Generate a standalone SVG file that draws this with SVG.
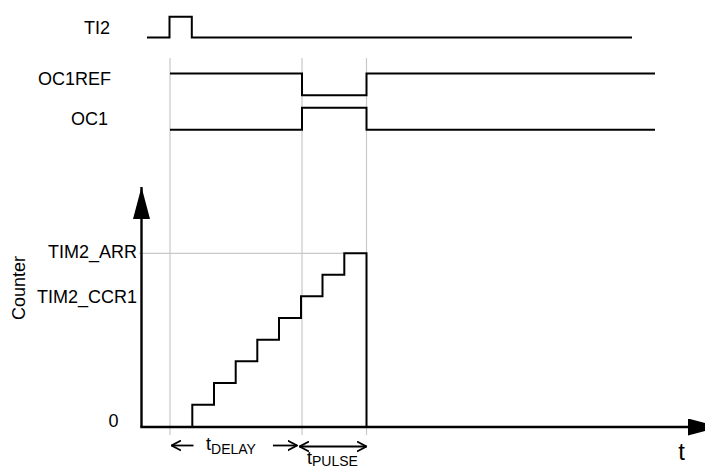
<svg xmlns="http://www.w3.org/2000/svg" width="705" height="470" viewBox="0 0 705 470">
<style>
.sig{fill:none;stroke:#000;stroke-width:2;stroke-linejoin:miter}
.grid{fill:none;stroke:#c8c8c8;stroke-width:1.2}
.axis{fill:none;stroke:#000;stroke-width:2.4}
.dim{fill:none;stroke:#000;stroke-width:1.8}
.lbl{font-family:"Liberation Sans",Arial,sans-serif;font-size:18px;fill:#000}
.sub{font-size:14px}
</style>
<defs>
<marker id="solid" viewBox="0 0 32 17" refX="32" refY="8.5" markerWidth="32" markerHeight="17" markerUnits="userSpaceOnUse" orient="auto">
<path d="M0,0 L32,8.5 L0,17 Z" fill="#000"/>
</marker>
<marker id="open" viewBox="0 0 10 12" refX="9.5" refY="6" markerWidth="10" markerHeight="12" markerUnits="userSpaceOnUse" orient="auto-start-reverse">
<path d="M0,1 L9.5,6 L0,11" fill="none" stroke="#000" stroke-width="1.8"/>
</marker>
</defs>
<rect width="705" height="470" fill="#fff"/>

<g id="gridlines">
<line class="grid" x1="170" y1="58" x2="170" y2="435"/>
<line class="grid" x1="302" y1="58" x2="302" y2="435"/>
<line class="grid" x1="366.5" y1="58" x2="366.5" y2="435"/>
<line class="grid" x1="139" y1="253.3" x2="366" y2="253.3"/>
</g>

<g id="signal-labels">
<text class="lbl" x="110" y="33.5" text-anchor="end">TI2</text>
<text class="lbl" x="111" y="85" text-anchor="end">OC1REF</text>
<text class="lbl" x="108" y="124.5" text-anchor="end">OC1</text>
</g>

<g id="TI2">
<path class="sig" d="M147,37.5 H169.5 V16.8 H191.8 V37.5 H632"/>
</g>
<g id="OC1REF">
<path class="sig" d="M170,73.5 H302 V95.3 H366.5 V73.5 H655"/>
</g>
<g id="OC1">
<path class="sig" d="M170,129.7 H302 V107.7 H366.5 V129.7 H655"/>
</g>

<g id="axes">
<line class="axis" x1="141.5" y1="427" x2="141.5" y2="187" marker-end="url(#solid)"/>
<line class="axis" x1="140.3" y1="427" x2="720" y2="427" marker-end="url(#solid)"/>
<text class="lbl" x="25" y="288" text-anchor="middle" transform="rotate(-90 25 288)">Counter</text>
<text class="lbl" x="137" y="257.7" text-anchor="end">TIM2_ARR</text>
<text class="lbl" x="137" y="302.5" text-anchor="end">TIM2_CCR1</text>
<text class="lbl" x="118.5" y="426.5" text-anchor="end">0</text>
<text class="lbl" x="681.5" y="460" text-anchor="middle" style="font-size:24px">t</text>
</g>

<g id="counter">
<path class="sig" d="M192.3,427 V404.7 H214 V383 H235.7 V361.3 H257.3 V339.7 H279 V318 H301 V296.3 H322.5 V274.7 H344.3 V253.3 H366.5 V427"/>
</g>

<g id="connectors">
<line class="dim" x1="193.5" y1="445.5" x2="171.5" y2="445.5" marker-end="url(#open)"/>
<line class="dim" x1="273" y1="445.5" x2="297" y2="445.5" marker-end="url(#open)"/>
<line class="dim" x1="299.5" y1="446.5" x2="366.5" y2="446.5" marker-start="url(#open)" marker-end="url(#open)"/>
</g>

<g id="dim-labels">
<text class="lbl" x="206" y="450">t<tspan class="sub" dy="3.5">DELAY</tspan></text>
<text class="lbl" x="307" y="464">t<tspan class="sub" dy="2">PULSE</tspan></text>
</g>
</svg>
